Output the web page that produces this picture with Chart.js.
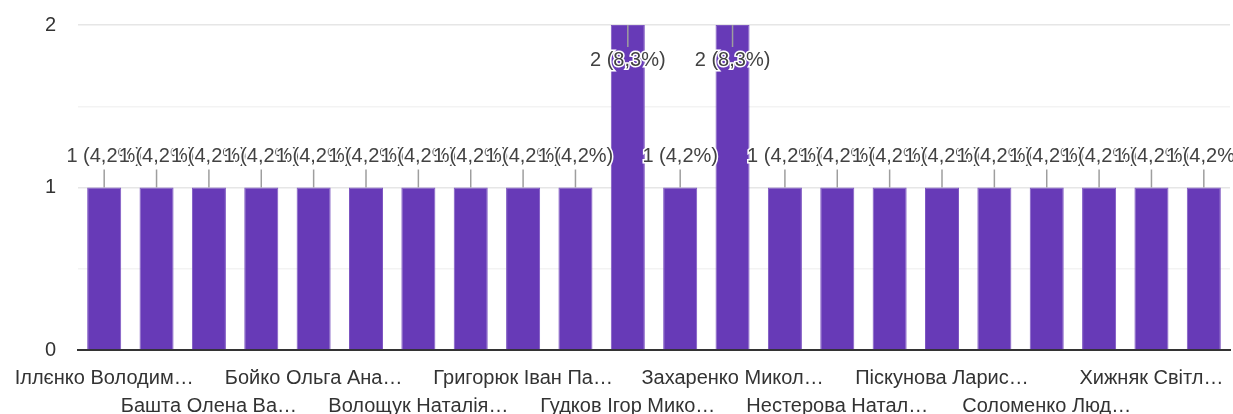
<!DOCTYPE html>
<html>
<head>
<meta charset="utf-8">
<script src="https://cdn.jsdelivr.net/npm/chart.js@4"></script>
<style>
  html, body { margin: 0; padding: 0; background: #fff; }
  #wrap { width: 1233px; height: 414px; }
</style>
</head>
<body>
<div id="wrap"><canvas id="chart"></canvas></div>
<script>
const names = [
  'Іллєнко Володим…', 'Бабенко Оксана…', 'Башта Олена Ва…', 'Бондар Тетяна…',
  'Бойко Ольга Ана…', 'Василенко Ірина…', 'Волощук Наталія…', 'Гаврилюк Олег…',
  'Григорюк Іван Па…', 'Гриценко Марія…', 'Гудков Ігор Мико…', 'Денисенко Анна…',
  'Захаренко Микол…', 'Коваленко Петро…', 'Нестерова Натал…', 'Павленко Юлія…',
  'Піскунова Ларис…', 'Савченко Ігор…', 'Соломенко Люд…', 'Ткаченко Олена…',
  'Хижняк Світл…', 'Шевченко Андрій…'
];
const counts = [1, 1, 1, 1, 1, 1, 1, 1, 1, 1, 2, 1, 2, 1, 1, 1, 1, 1, 1, 1, 1, 1];
const yTicks = [0, 1, 2];

const total = counts.reduce((a, b) => a + b, 0);
const FONT = '"Liberation Sans", Arial, sans-serif';

const barLabels = {
  id: 'barLabels',
  afterDatasetsDraw(chart) {
    const ctx = chart.ctx;
    const meta = chart.getDatasetMeta(0);
    const area = chart.chartArea;
    ctx.save();
    ctx.font = '20px ' + FONT;
    ctx.textAlign = 'center';
    ctx.textBaseline = 'middle';
    meta.data.forEach((bar, i) => {
      const v = counts[i];
      const pct = (v / total * 100).toFixed(1).replace('.', ',');
      const text = v + ' (' + pct + '%)';
      let ty = bar.y - 31;
      let y0, y1;
      if (ty < area.top + 12) {
        ty = bar.y + 35;
        y0 = bar.y; y1 = ty - 13;
      } else {
        y0 = ty + 13; y1 = bar.y;
      }
      ctx.strokeStyle = '#9e9e9e';
      ctx.lineWidth = 1.5;
      ctx.beginPath();
      ctx.moveTo(bar.x, y0);
      ctx.lineTo(bar.x, y1);
      ctx.stroke();
      ctx.lineWidth = 3;
      ctx.strokeStyle = '#fff';
      ctx.strokeText(text, bar.x, ty);
      ctx.fillStyle = '#424242';
      ctx.fillText(text, bar.x, ty);
    });
    ctx.restore();
  }
};

new Chart(document.getElementById('chart'), {
  type: 'bar',
  data: {
    labels: names,
    datasets: [{
      data: counts,
      backgroundColor: '#673ab7',
      borderColor: '#7e57c2',
      borderWidth: 1,
      barPercentage: 0.65,
      categoryPercentage: 1
    }]
  },
  options: {
    responsive: true,
    maintainAspectRatio: false,
    animation: false,
    layout: { padding: { top: 25, right: 3, left: 0, bottom: 0 } },
    plugins: { legend: { display: false }, tooltip: { enabled: false } },
    scales: {
      x: {
        grid: { display: false, drawTicks: false },
        border: { color: '#333', width: 2 },
        ticks: {
          autoSkip: false,
          maxRotation: 0,
          minRotation: 0,
          padding: 14,
          color: '#333',
          font: { family: FONT, size: 20, lineHeight: 1.4 },
          callback(val, i) {
            if (i % 4 === 0) return names[i];
            if (i % 4 === 2) return ['', names[i]];
            return '';
          }
        },
        afterFit(scale) { scale.height = 64; scale.paddingLeft = 0; scale.paddingRight = 0; }
      },
      y: {
        min: 0,
        max: 2,
        afterBuildTicks(scale) {
          scale.ticks = [0, 0.5, 1, 1.5, 2].map(v => ({ value: v }));
        },
        grid: {
          drawTicks: false,
          color: ctx => (ctx.tick && Number.isInteger(ctx.tick.value)) ? '#e6e6e6' : '#f3f3f3',
          lineWidth: 1.5
        },
        border: { display: false },
        ticks: {
          padding: 22,
          color: '#333',
          font: { family: FONT, size: 20 },
          callback: v => yTicks.includes(v) ? String(v) : ''
        },
        afterFit(scale) { scale.width = 78; scale.paddingTop = 0; scale.paddingBottom = 0; }
      }
    }
  },
  plugins: [barLabels]
});
</script>
</body>
</html>
